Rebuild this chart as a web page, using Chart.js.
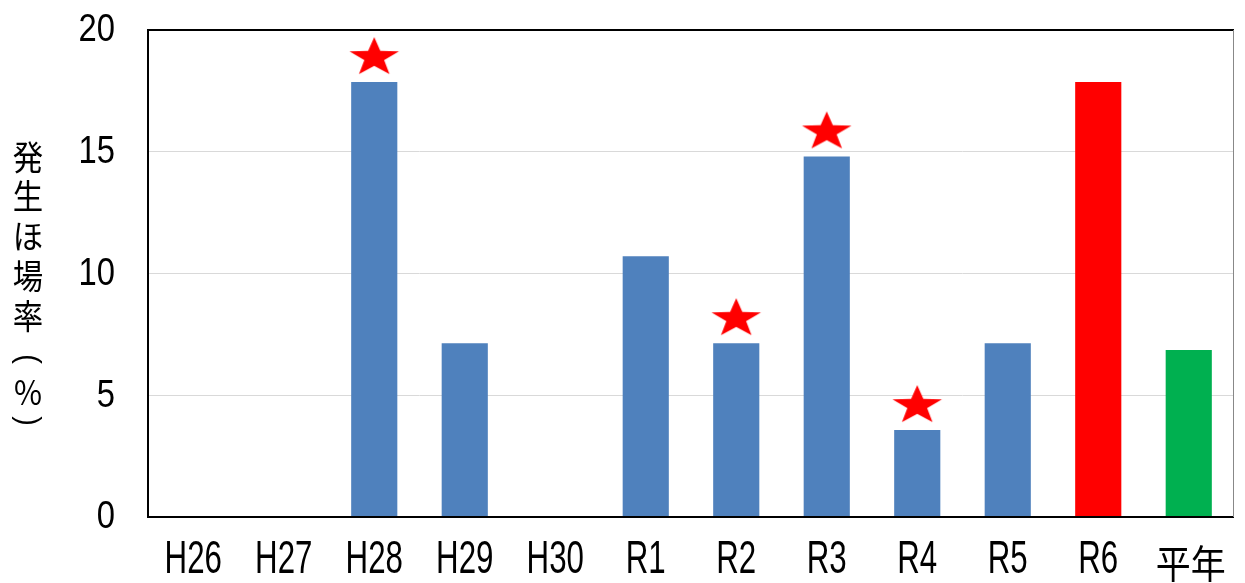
<!DOCTYPE html>
<html>
<head>
<meta charset="utf-8">
<script src="https://cdn.jsdelivr.net/npm/chart.js@4/dist/chart.umd.min.js"></script>
<style>
html,body{margin:0;padding:0;background:#fff;}
#wrap{width:1245px;height:583px;position:relative;}
</style>
</head>
<body>
<div id="wrap"><canvas id="c" width="1245" height="583"></canvas></div>
<script>
// ---- data ----
const categories = ['H26','H27','H28','H29','H30','R1','R2','R3','R4','R5','R6','平年'];
const rates = [0, 0, 17.86, 7.14, 0, 10.71, 7.14, 14.81, 3.57, 7.14, 17.86, 6.86];
const starred = [false, false, true, false, false, false, true, true, true, false, false, false];
const yTicks = [0, 5, 10, 15, 20];
const yTitle = ['発','生','ほ','場','率','(','%',')'];

// ---- styles ----
const BLUE = '#4F81BD', RED = '#FF0000', GREEN = '#00B050';
const barColors = categories.map(c => c === 'R6' ? RED : (c === '平年' ? GREEN : BLUE));
const LATIN = "'Liberation Sans', Arial, sans-serif";
const CJK = "'Noto Sans CJK JP', sans-serif";
const isCJK = s => /[\u3000-\u9fff\uff00-\uffef]/.test(s);

// star image used as point style (star drawn above the point)
function makeStar(){
  const w = 64, h = 110;
  const cv = document.createElement('canvas');
  cv.width = w; cv.height = h;
  const g = cv.getContext('2d');
  const cx = w/2, cy = h/2 - 26;
  const rx = 26, ry = 20.5, inner = 0.40;
  g.beginPath();
  for (let i = 0; i < 10; i++){
    const a = -Math.PI/2 + i*Math.PI/5;
    const r = (i % 2 === 0) ? 1 : inner;
    const x = cx + Math.cos(a)*rx*r;
    const y = cy + 1.5 + Math.sin(a)*ry*r;
    if (i === 0) g.moveTo(x, y); else g.lineTo(x, y);
  }
  g.closePath();
  g.fillStyle = RED;
  g.fill();
  return cv;
}
const starImg = makeStar();

function drawScaled(ctx, text, x, y, font, sx, sy, align){
  ctx.save();
  ctx.font = font;
  ctx.textAlign = align;
  ctx.textBaseline = 'middle';
  ctx.translate(x, y);
  ctx.scale(sx, sy);
  ctx.fillText(text, 0, 0);
  ctx.restore();
}

const framePlugin = {
  id: 'frame',
  afterDatasetsDraw(chart){
    const {ctx, chartArea:a} = chart;
    ctx.save();
    ctx.strokeStyle = '#000';
    ctx.lineWidth = 2;
    ctx.beginPath();
    ctx.moveTo(a.right, a.top); ctx.lineTo(a.left, a.top);
    ctx.lineTo(a.left, a.bottom); ctx.lineTo(a.right, a.bottom);
    ctx.stroke();
    ctx.strokeStyle = '#888';
    ctx.lineWidth = 1;
    ctx.beginPath();
    ctx.moveTo(a.right - 0.5, a.top); ctx.lineTo(a.right - 0.5, a.bottom);
    ctx.stroke();
    ctx.restore();
  },
  afterDraw(chart){
    const {ctx, chartArea:a} = chart;
    const xs = chart.scales.x, ys = chart.scales.y;
    ctx.save();
    ctx.fillStyle = '#000';
    // y tick labels
    yTicks.forEach(v => {
      drawScaled(ctx, String(v), a.left - 33, ys.getPixelForValue(v) + 0.5, `39px ${LATIN}`, 0.84, 1, 'right');
    });
    // x tick labels
    categories.forEach((c, i) => {
      const x = xs.getPixelForTick(i);
      if (isCJK(c)) drawScaled(ctx, c, x + 2, a.bottom + 46, `38px ${CJK}`, 0.92, 1.02, 'center');
      else drawScaled(ctx, c, x, a.bottom + 43, `46px ${LATIN}`, 0.68, 1, 'center');
    });
    // vertical axis title (parentheses turned for vertical writing)
    const pos = [157, 196, 236, 276, 316, 359, 392, 421];
    yTitle.forEach((ch, i) => {
      ctx.save();
      ctx.textAlign = 'center';
      ctx.textBaseline = 'middle';
      ctx.translate(28, pos[i]);
      if (ch === '(' || ch === ')') {
        ctx.font = `32px ${LATIN}`;
        ctx.rotate(Math.PI/2);
        ctx.scale(0.9, 1.0);
        ctx.fillText(ch, 0, 0);
      } else {
        ctx.font = `32px ${CJK}`;
        ctx.scale(0.95, 1.08);
        ctx.fillText(ch, 0, 0);
      }
      ctx.restore();
    });
    ctx.restore();
  }
};

new Chart(document.getElementById('c'), {
  data: {
    labels: categories,
    datasets: [
      {
        type: 'line',
        data: rates.map((v, i) => starred[i] ? v : null),
        showLine: false,
        pointStyle: starImg,
        pointRadius: 10,
        order: 0
      },
      {
        type: 'bar',
        data: rates,
        backgroundColor: barColors,
        borderWidth: 0,
        categoryPercentage: 1,
        barPercentage: 0.51,
        order: 1
      }
    ]
  },
  options: {
    responsive: false,
    animation: false,
    layout: { padding: { left: 0, right: 1, top: 30, bottom: 0 } },
    plugins: { legend: { display: false }, tooltip: { enabled: false } },
    scales: {
      x: {
        grid: { display: false, drawTicks: false },
        border: { display: false },
        ticks: { color: 'rgba(0,0,0,0)', font: { size: 1 }, padding: 0, maxRotation: 0, autoSkip: false },
        afterFit(s){ s.height = 66; }
      },
      y: {
        min: 0, max: 20,
        afterBuildTicks(s){ s.ticks = yTicks.map(v => ({value: v})); },
        grid: { color: '#d9d9d9', lineWidth: 1, drawTicks: false },
        border: { display: false },
        ticks: { color: 'rgba(0,0,0,0)', font: { size: 1 }, padding: 0 },
        afterFit(s){ s.width = 148; }
      }
    }
  },
  plugins: [framePlugin]
});
</script>
</body>
</html>
